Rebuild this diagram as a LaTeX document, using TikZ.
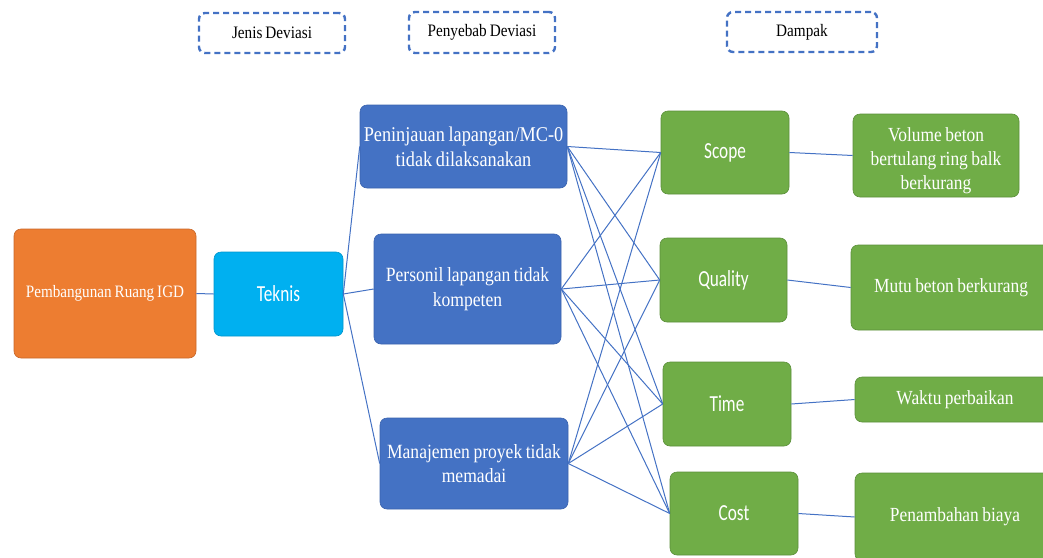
\documentclass[tikz,border=0pt]{standalone}
\usepackage{fontspec}
\setmainfont[FakeStretch=0.87,WordSpace=0.8]{Liberation Serif}
\newfontfamily\carl[FakeStretch=0.75]{Carlito}
\definecolor{hblue}{HTML}{4472C4}
\definecolor{borange}{HTML}{ED7D31}
\definecolor{bcyan}{HTML}{00B0F0}
\definecolor{bgreen}{HTML}{70AD47}
\definecolor{dgreen}{HTML}{5B8F3A}
\definecolor{dblue}{HTML}{3A63AE}
\definecolor{dorange}{HTML}{C8672A}
\begin{document}
\begin{tikzpicture}[x=1pt,y=-1pt,
  hdr/.style={draw=hblue,line width=2.4pt,dash pattern=on 6pt off 4pt,rounded corners=6pt,inner sep=0pt,font=\fontsize{17.5}{20}\selectfont},
  box/.style={rounded corners=7pt,inner sep=2pt,text=white,align=center},
  cause/.style={box,fill=hblue,draw=dblue,line width=0.6pt,font=\fontsize{20.2}{24.5}\selectfont},
  imp/.style={box,fill=bgreen,draw=dgreen,line width=0.6pt,font=\carl\fontsize{23}{26}\selectfont},
  eff/.style={box,fill=bgreen,draw=dgreen,line width=0.6pt,font=\fontsize{20}{24}\selectfont},
  link/.style={draw=hblue,line width=1pt}]
\useasboundingbox (0,0) rectangle (1043,557);
\begin{scope}
\clip (0,0) rectangle (1043,557);
% headers
\node[hdr,minimum width=146pt,minimum height=40pt] (h1) at (272,33) {Jenis Deviasi};
\node[hdr,minimum width=146pt,minimum height=41pt] (h2) at (482,32.5) {Penyebab Deviasi};
\node[hdr,minimum width=150pt,minimum height=40pt] (h3) at (802,32) {Dampak};
% root
\node[box,fill=borange,draw=dorange,line width=0.6pt,minimum width=182pt,minimum height=129pt,font=\fontsize{17.4}{20}\selectfont] (igd) at (105,293.5) {Pembangunan Ruang IGD};
\node[box,fill=bcyan,draw=bcyan!85!black,line width=0.6pt,minimum width=129pt,minimum height=84pt,font=\carl\fontsize{23}{26}\selectfont] (tek) at (278.5,294) {Teknis};
% causes
\node[cause,minimum width=207pt,minimum height=83pt,font=\fontsize{21}{25}\selectfont] (c1) at (463.5,146.5) {Peninjauan lapangan/MC-0\\tidak dilaksanakan};
\node[cause,minimum width=187pt,minimum height=110pt] (c2) at (467.5,289) {Personil lapangan tidak\\kompeten};
\node[cause,minimum width=188pt,minimum height=91pt] (c3) at (474,463.5) {Manajemen proyek tidak\\memadai};
% impacts
\node[imp,minimum width=128pt,minimum height=83pt] (s) at (725,152.5) {Scope};
\node[imp,minimum width=127pt,minimum height=84pt] (q) at (723.5,280) {Quality};
\node[imp,minimum width=128pt,minimum height=84pt] (t) at (727,404) {Time};
\node[imp,minimum width=128pt,minimum height=83pt] (c) at (734,513.5) {Cost};
% effects
\node[eff,minimum width=166pt,minimum height=83pt] (e1) at (936,155.5) {\rule{0pt}{24pt}Volume beton\\bertulang ring balk\\berkurang};
\node[eff,minimum width=200pt,minimum height=85pt] (e2) at (951,287.5) {Mutu beton berkurang};
\node[eff,minimum width=200pt,minimum height=45pt] (e3) at (955,399.5) {Waktu perbaikan};
\node[eff,minimum width=200pt,minimum height=88pt] (e4) at (955,517) {Penambahan biaya};
\end{scope}
% links
\draw[link] (igd.east) -- (tek.west);
\foreach \k in {c1,c2,c3} {\draw[link] (tek.east) -- (\k.west);}
\foreach \a in {c1,c2,c3} {\foreach \b in {s,q,t,c} {\draw[link] (\a.east) -- (\b.west);}}
\draw[link] (s.east) -- (e1.west);
\draw[link] (q.east) -- (e2.west);
\draw[link] (t.east) -- (e3.west);
\draw[link] (c.east) -- (e4.west);
\end{tikzpicture}
\end{document}
